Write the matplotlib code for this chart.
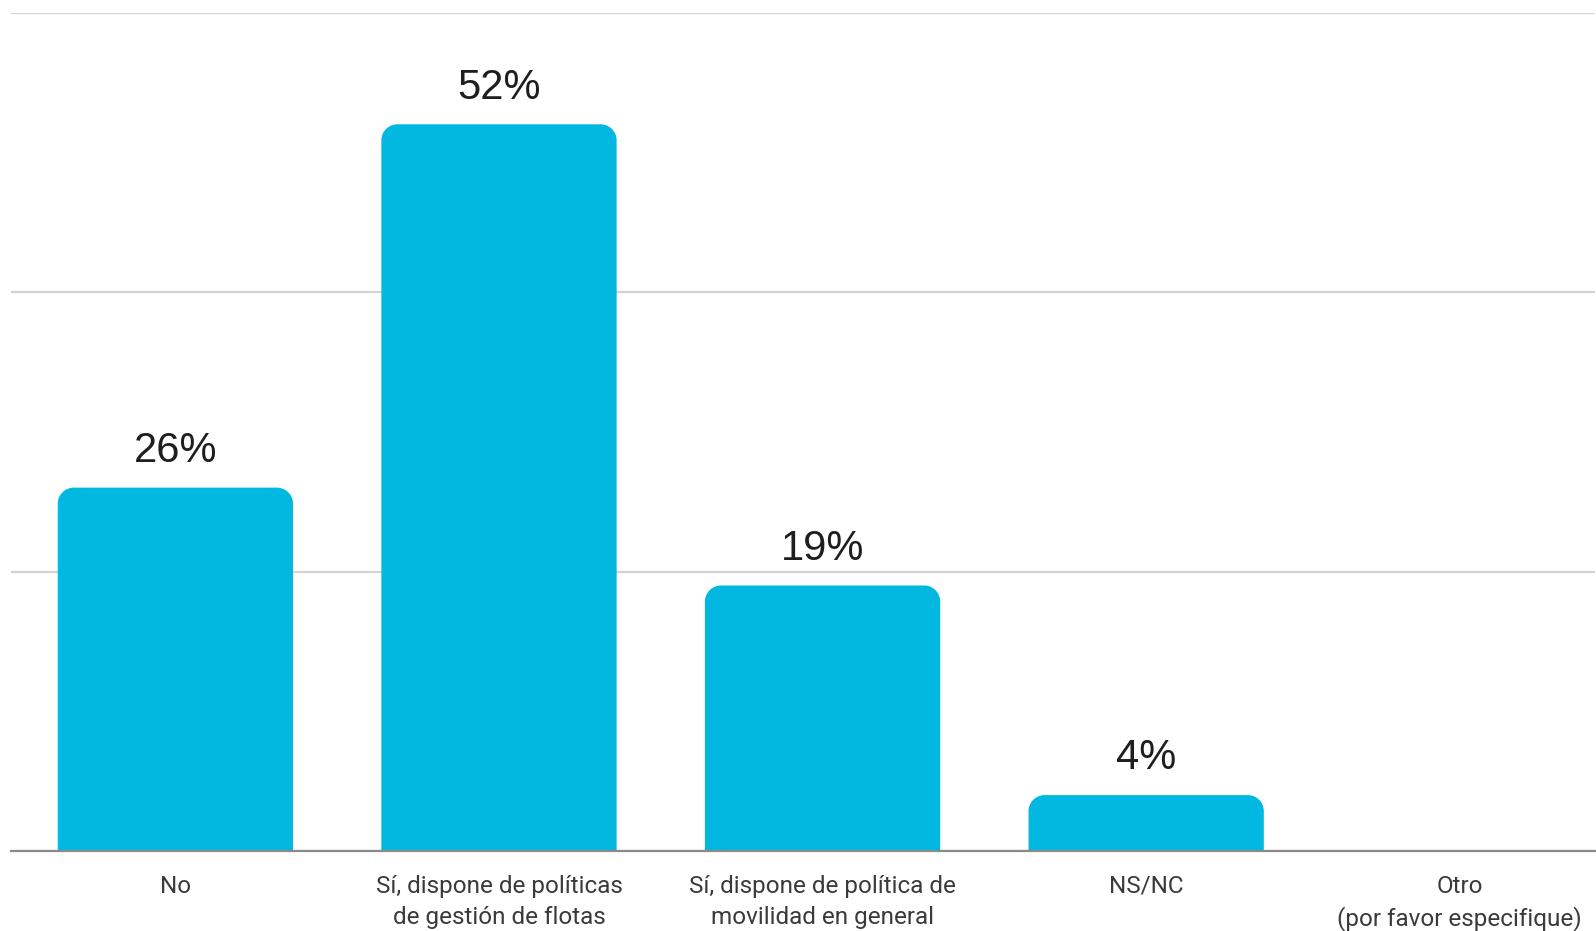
import matplotlib
matplotlib.use("Agg")
import matplotlib.pyplot as plt
import matplotlib.transforms as mtransforms
from matplotlib.path import Path
from matplotlib.patches import PathPatch

categories = ["No", "Sí, dispone de políticas\nde gestión de flotas",
              "Sí, dispone de política de\nmovilidad en general", "NS/NC",
              "Otro\n(por favor especifique)"]
values = [26, 52, 19, 4, 0]
value_labels = ["26%", "52%", "19%", "4%", ""]
yticks = [0, 20, 40, 60]

BAR_COLOR = "#00B8E0"
W, H, DPI = 15.96, 9.31, 100
fig = plt.figure(figsize=(W, H), dpi=DPI)
ax = fig.add_axes([11 / 1596, 80 / 931, 1584 / 1596, 838.5 / 931])

x = list(range(len(categories)))
bars = ax.bar(x, values, width=0.727, color=BAR_COLOR, zorder=3)
ax.set_xlim(-0.508, 4.387)
ax.set_ylim(0, 60)

# rounded top corners
fig.canvas.draw()
px_per_x = ax.transData.transform((1, 0))[0] - ax.transData.transform((0, 0))[0]
px_per_y = ax.transData.transform((0, 1))[1] - ax.transData.transform((0, 0))[1]
r_px = 16
for b in bars:
    h = b.get_height()
    if h <= 0:
        b.set_visible(False)
        continue
    x0 = b.get_x(); w = b.get_width()
    rx = r_px / px_per_x
    ry = min(r_px / px_per_y, h)
    k = 0.5523
    verts = [(x0, 0), (x0, h - ry),
             (x0, h - ry + k * ry), (x0 + rx - k * rx, h), (x0 + rx, h),
             (x0 + w - rx, h),
             (x0 + w - rx + k * rx, h), (x0 + w, h - ry + k * ry), (x0 + w, h - ry),
             (x0 + w, 0), (x0, 0)]
    codes = [Path.MOVETO, Path.LINETO,
             Path.CURVE4, Path.CURVE4, Path.CURVE4,
             Path.LINETO,
             Path.CURVE4, Path.CURVE4, Path.CURVE4,
             Path.LINETO, Path.CLOSEPOLY]
    ax.add_patch(PathPatch(Path(verts, codes), facecolor=BAR_COLOR,
                           edgecolor="none", zorder=3))
    b.set_visible(False)

ax.bar_label(bars, labels=value_labels, padding=12, fontsize=30,
             family="Liberation Sans", color="#1e1e1e", zorder=4)

ax.set_yticks(yticks)
ax.yaxis.grid(True, color="#d3d3d3", linewidth=1.6, zorder=0)
ax.tick_params(axis="y", left=False, labelleft=False)
ax.set_xticks(x)
ax.set_xticklabels(categories, fontsize=17.5, family="Roboto",
                   color="#3a3a3a", linespacing=1.45)
ax.tick_params(axis="x", length=0, pad=17)
last = ax.get_xticklabels()[-1]
last.set_transform(last.get_transform() +
                   mtransforms.ScaledTranslation(-10 / DPI, 0, fig.dpi_scale_trans))
for s in ["top", "right", "left"]:
    ax.spines[s].set_visible(False)
ax.spines["bottom"].set_color("#8a8a8a")
ax.spines["bottom"].set_linewidth(1.6)
ax.spines["bottom"].set_zorder(5)

fig.savefig("out.png", dpi=DPI, facecolor="white")
